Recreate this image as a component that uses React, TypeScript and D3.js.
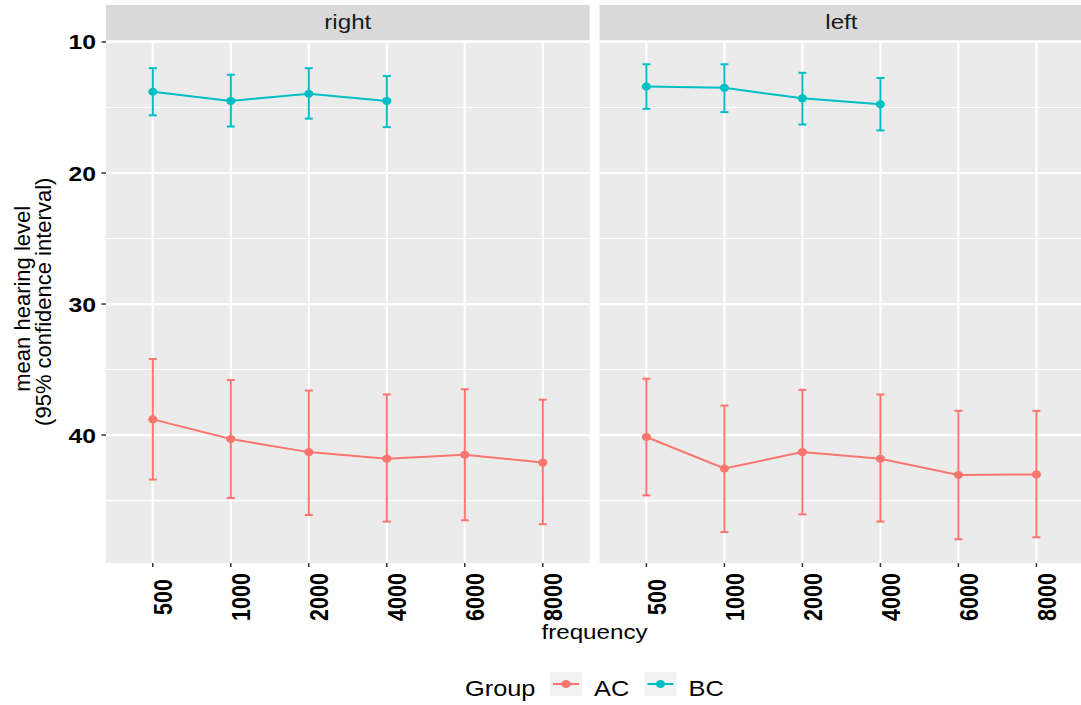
import React from "react";
import * as d3 from "d3";

const frequencies = ["500", "1000", "2000", "4000", "6000", "8000"];
const sides = ["right", "left"];
const groups = ["AC", "BC"];
const groupColors = ["#F8766D", "#00BFC4"];
const yTicks = [10, 20, 30, 40];
const yMinorTicks = [15, 25, 35, 45];

const rightACMean = [38.8, 40.3, 41.3, 41.8, 41.5, 42.1];
const rightACLow = [34.2, 35.8, 36.6, 36.9, 36.5, 37.3];
const rightACHigh = [43.4, 44.8, 46.1, 46.6, 46.5, 46.8];
const rightBCMean = [13.8, 14.5, 13.95, 14.5];
const rightBCLow = [12.0, 12.5, 12.0, 12.6];
const rightBCHigh = [15.6, 16.45, 15.85, 16.5];
const leftACMean = [40.15, 42.55, 41.3, 41.8, 43.05, 43.0];
const leftACLow = [35.7, 37.75, 36.55, 36.9, 38.15, 38.15];
const leftACHigh = [44.6, 47.4, 46.05, 46.6, 47.95, 47.8];
const leftBCMean = [13.4, 13.5, 14.3, 14.75];
const leftBCLow = [11.7, 11.7, 12.35, 12.75];
const leftBCHigh = [15.1, 15.35, 16.3, 16.75];

type Series = { mean: number[]; low: number[]; high: number[] };
const panelData: Record<string, Record<string, Series>> = {
  right: {
    AC: { mean: rightACMean, low: rightACLow, high: rightACHigh },
    BC: { mean: rightBCMean, low: rightBCLow, high: rightBCHigh },
  },
  left: {
    AC: { mean: leftACMean, low: leftACLow, high: leftACHigh },
    BC: { mean: leftBCMean, low: leftBCLow, high: leftBCHigh },
  },
};

const W = 1081;
const H = 705;
const SX = 1.18;
const FONT = "'Liberation Sans', Arial, sans-serif";
const panelTop = 40.5;
const panelBottom = 563;
const panelLefts = [106, 599.6];
const panelWidth = 483.6;
const stripTop = 5;

export default function App() {
  const allLow = sides.flatMap((s) => groups.flatMap((g) => panelData[s][g].low));
  const allHigh = sides.flatMap((s) => groups.flatMap((g) => panelData[s][g].high));
  const lo = d3.min(allLow)!;
  const hi = d3.max(allHigh)!;
  const pad = (hi - lo) * 0.05;
  const y = d3.scaleLinear().domain([lo - pad, hi + pad]).range([panelTop, panelBottom]);

  const line = d3
    .line<[number, number]>()
    .x((d) => d[0])
    .y((d) => d[1]);

  const yMid = (panelTop + panelBottom) / 2;

  return (
    <svg
      width={W}
      height={H}
      style={{ position: "absolute", left: 0, top: 0, background: "#fff" }}
      fontFamily={FONT}
    >
      {sides.map((side, pi) => {
        const x0 = panelLefts[pi];
        const x = d3
          .scalePoint<string>()
          .domain(frequencies)
          .range([x0, x0 + panelWidth])
          .padding(0.6);
        return (
          <g key={side}>
            <rect x={x0} y={stripTop} width={panelWidth} height={panelTop - stripTop - 0.5} fill="#D9D9D9" />
            <text
              transform={`translate(${x0 + panelWidth / 2},29) scale(${SX},1)`}
              textAnchor="middle"
              fontSize={20.5}
              fill="#1A1A1A"
            >
              {side}
            </text>
            <rect x={x0} y={panelTop} width={panelWidth} height={panelBottom - panelTop} fill="#EBEBEB" />
            {yMinorTicks.map((t) => (
              <line key={"m" + t} x1={x0} x2={x0 + panelWidth} y1={y(t)} y2={y(t)} stroke="#fff" strokeWidth={1.1} />
            ))}
            {yTicks.map((t) => (
              <line key={"M" + t} x1={x0} x2={x0 + panelWidth} y1={y(t)} y2={y(t)} stroke="#fff" strokeWidth={2.2} />
            ))}
            {frequencies.map((f) => (
              <line key={"v" + f} x1={x(f)} x2={x(f)} y1={panelTop} y2={panelBottom} stroke="#fff" strokeWidth={2.2} />
            ))}
            {groups.map((g, gi) => {
              const s = panelData[side][g];
              const pts: [number, number][] = s.mean.map((m, i) => [x(frequencies[i])!, y(m)]);
              const col = groupColors[gi];
              return (
                <g key={g}>
                  {s.mean.map((m, i) => {
                    const cx = x(frequencies[i])!;
                    return (
                      <g key={i}>
                        <line x1={cx} x2={cx} y1={y(s.low[i])} y2={y(s.high[i])} stroke={col} strokeWidth={2} />
                        <line x1={cx - 4} x2={cx + 4} y1={y(s.low[i])} y2={y(s.low[i])} stroke={col} strokeWidth={2} />
                        <line x1={cx - 4} x2={cx + 4} y1={y(s.high[i])} y2={y(s.high[i])} stroke={col} strokeWidth={2} />
                      </g>
                    );
                  })}
                  <path d={line(pts) || ""} fill="none" stroke={col} strokeWidth={2} />
                  {pts.map((p, i) => (
                    <ellipse key={i} cx={p[0]} cy={p[1]} rx={4.6} ry={4} fill={col} />
                  ))}
                </g>
              );
            })}
            {frequencies.map((f) => (
              <g key={"t" + f}>
                <line x1={x(f)} x2={x(f)} y1={panelBottom} y2={panelBottom + 4} stroke="#333" strokeWidth={1.5} />
                <text
                  transform={`translate(${x(f)! + 19.5},597) scale(${SX},1) rotate(-90)`}
                  textAnchor="middle"
                  fontSize={21.5}
                  fontWeight="bold"
                  fill="#000"
                >
                  {f}
                </text>
              </g>
            ))}
          </g>
        );
      })}
      {yTicks.map((t) => (
        <g key={"yt" + t}>
          <line x1={101.5} x2={106} y1={y(t)} y2={y(t)} stroke="#333" strokeWidth={1.5} />
          <text
            transform={`translate(96,${y(t) + 7.5}) scale(${SX},1)`}
            textAnchor="end"
            fontSize={21}
            fontWeight="bold"
            fill="#000"
          >
            {t}
          </text>
        </g>
      ))}
      <text
        transform={`translate(29.5,${yMid - 3}) rotate(-90)`}
        textAnchor="middle"
        fontSize={22}
        fill="#000"
      >
        mean hearing level
      </text>
      <text
        transform={`translate(51,${yMid}) rotate(-90)`}
        textAnchor="middle"
        fontSize={22}
        fill="#000"
      >
        (95% confidence interval)
      </text>
      <text transform={`translate(594.5,639) scale(${SX},1)`} textAnchor="middle" fontSize={20.5} fill="#000">
        frequency
      </text>
      <g>
        <text transform={`translate(465,696) scale(${SX},1)`} fontSize={21.5} fill="#000">
          Group
        </text>
        {groups.map((g, gi) => {
          const kx = 550 + gi * 94.5;
          return (
            <g key={"lg" + g}>
              <rect x={kx} y={672} width={32} height={24} fill="#F2F2F2" />
              <line x1={kx + 3} x2={kx + 29} y1={684} y2={684} stroke={groupColors[gi]} strokeWidth={2} />
              <ellipse cx={kx + 16} cy={684} rx={4.6} ry={4} fill={groupColors[gi]} />
              <text transform={`translate(${kx + 44},696) scale(${SX},1)`} fontSize={21.5} fill="#000">
                {g}
              </text>
            </g>
          );
        })}
      </g>
    </svg>
  );
}
